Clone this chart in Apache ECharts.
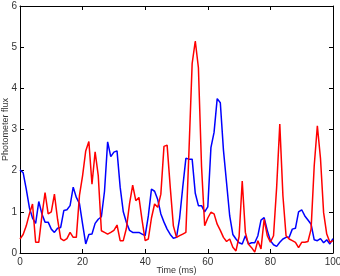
<!DOCTYPE html>
<html>
<head>
<meta charset="utf-8">
<script src="https://cdn.jsdelivr.net/npm/echarts@6/dist/echarts.min.js"></script>
<style>
  html, body { margin: 0; padding: 0; background: #fff; }
  #main { width: 340px; height: 276px; }
</style>
</head>
<body>
<div id="main"></div>
<script>
// photometer traces, one sample per ms (0..100)
var blueFlux = [2.02, 1.95, 1.55, 1.1, 0.85, 0.72, 1.25, 0.95, 0.75, 0.75,
    0.58, 0.5, 0.6, 0.62, 1.03, 1.05, 1.15, 1.6, 1.35, 1.2,
    0.7, 0.22, 0.45, 0.46, 0.72, 0.82, 0.88, 1.5, 2.7, 2.34,
    2.45, 2.48, 1.6, 1.0, 0.74, 0.55, 0.5, 0.5, 0.5, 0.46,
    0.42, 0.9, 1.55, 1.5, 1.3, 0.95, 0.75, 0.58, 0.45, 0.36,
    0.38, 0.85, 1.6, 2.3, 2.28, 2.28, 1.45, 1.15, 1.15, 1.0,
    1.12, 2.56, 2.93, 3.75, 3.65, 2.5, 1.7, 0.9, 0.45, 0.34,
    0.25, 0.22, 0.42, 0.22, 0.25, 0.25, 0.42, 0.8, 0.86, 0.55,
    0.3, 0.2, 0.16, 0.26, 0.34, 0.38, 0.38, 0.58, 0.6, 1.0,
    1.05, 0.9, 0.8, 0.7, 0.32, 0.3, 0.35, 0.25, 0.32, 0.22,
    0.35];
var redFlux = [0.34, 0.45, 0.66, 0.95, 1.19, 0.26, 0.26, 0.9, 1.47, 0.95,
    1.0, 1.43, 0.82, 0.35, 0.3, 0.35, 0.5, 0.38, 0.38, 1.4,
    1.88, 2.48, 2.71, 1.67, 2.46, 1.88, 0.54, 0.5, 0.46, 0.5,
    0.55, 0.68, 0.3, 0.3, 0.6, 1.2, 1.65, 1.27, 1.35, 0.8,
    0.3, 0.34, 0.85, 1.19, 1.11, 1.43, 2.59, 2.62, 1.6, 0.66,
    0.38, 0.42, 0.46, 0.5, 2.5, 4.6, 5.15, 4.5, 2.1, 0.66,
    0.85, 0.99, 0.95, 0.7, 0.55, 0.38, 0.28, 0.34, 0.14, 0.05,
    0.4, 1.75, 0.5, 0.21, 0.13, 0.02, 0.3, 0.1, 0.82, 0.42,
    0.26, 0.42, 1.6, 3.13, 1.39, 0.42, 0.34, 0.3, 0.26, 0.13,
    0.26, 0.26, 0.28, 0.58, 2.12, 3.09, 2.3, 0.98, 0.46, 0.26,
    0.3];
var xTicks = [0, 20, 40, 60, 80, 100];
var yTicks = [0, 1, 2, 3, 4, 5, 6];

var chart = echarts.init(document.getElementById('main'));

function pairs(arr) {
    return arr.map(function (v, i) { return [i, v]; });
}

var labelStyle = { color: '#333', fontSize: 10, fontFamily: 'Liberation Sans' };
var tick = { show: true, inside: true, length: 4, lineStyle: { color: '#000', width: 1 } };
var line = { show: true, onZero: false, lineStyle: { color: '#000', width: 1 } };

var option = {
    animation: false,
    grid: { left: 20, right: 7, top: 6, bottom: 23, containLabel: false, outerBoundsMode: 'none' },
    xAxis: [{
        type: 'value', min: xTicks[0], max: xTicks[xTicks.length - 1], interval: 20,
        position: 'bottom',
        name: 'Time (ms)', nameLocation: 'middle', nameGap: 13, nameMoveOverlap: false,
        nameTextStyle: { color: '#333', fontSize: 9, fontFamily: 'Liberation Sans' },
        axisLine: line, axisTick: tick,
        axisLabel: Object.assign({ margin: 4 }, labelStyle),
        splitLine: { show: false }
    }, {
        type: 'value', min: xTicks[0], max: xTicks[xTicks.length - 1], interval: 20,
        position: 'top',
        axisLine: line, axisTick: tick, axisLabel: { show: false }, splitLine: { show: false }
    }],
    yAxis: [{
        type: 'value', min: yTicks[0], max: yTicks[yTicks.length - 1], interval: 1,
        position: 'left',
        name: 'Photometer flux', nameLocation: 'middle', nameGap: 10, nameMoveOverlap: false,
        nameTextStyle: { color: '#333', fontSize: 9, fontFamily: 'Liberation Sans' },
        axisLine: line, axisTick: tick,
        axisLabel: Object.assign({ margin: 3 }, labelStyle),
        splitLine: { show: false }
    }, {
        type: 'value', min: yTicks[0], max: yTicks[yTicks.length - 1], interval: 1,
        position: 'right',
        axisLine: line, axisTick: tick, axisLabel: { show: false }, splitLine: { show: false }
    }],
    series: [
        {
            name: 'blue', type: 'line', data: pairs(blueFlux),
            showSymbol: false, lineStyle: { color: '#0000ff', width: 1.5 },
            itemStyle: { color: '#0000ff' }
        },
        {
            name: 'red', type: 'line', data: pairs(redFlux),
            showSymbol: false, lineStyle: { color: '#ff0000', width: 1.5 },
            itemStyle: { color: '#ff0000' }
        }
    ]
};

chart.setOption(option);
</script>
</body>
</html>
